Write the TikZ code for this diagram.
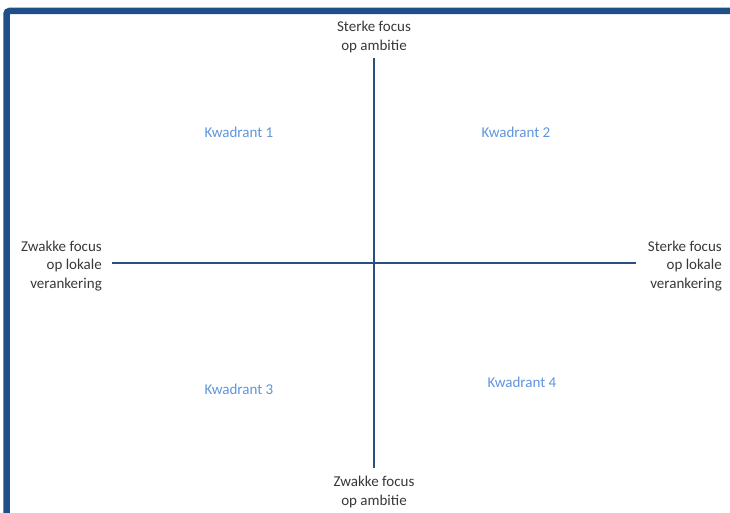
\documentclass[tikz,border=0pt]{standalone}
\usepackage{fontspec}
\setmainfont{Carlito}
\usepackage{xcolor}
\usetikzlibrary{positioning}
\definecolor{framebl}{HTML}{1F4E89}
\definecolor{axisbl}{HTML}{2B4E80}
\definecolor{kwbl}{HTML}{5E95DB}
\tikzstyle{axislabel} = [text=black!78, align=center, font=\fontsize{15}{18.5}\selectfont, inner sep=0pt]
\tikzstyle{kwadrant} = [text=kwbl, font=\fontsize{15}{18.5}\selectfont, inner sep=0pt]
\tikzstyle{axis} = [draw=axisbl, line width=2pt]

\begin{document}
\begin{tikzpicture}[x=1pt, y=-1pt]
    \useasboundingbox (0,0) rectangle (730,513);
    \clip (0,0) rectangle (730,513);

    % frame
    \draw[framebl, line width=6.5pt, rounded corners=3pt] (6.5,11) rectangle (760,540);

    % axes end points
    \coordinate (top) at (374,58);
    \coordinate (bottom) at (374,468);
    \coordinate (left) at (112,263);
    \coordinate (right) at (636,263);

    \node[axislabel] (ambhigh) at (374,37) {Sterke focus\\op ambitie};
    \node[axislabel] (amblow) at (374,492) {Zwakke focus\\op ambitie};
    \node[axislabel, align=right, anchor=east] (lokweak) at (102,266) {Zwakke focus\\op lokale\\verankering};
    \node[axislabel, align=right, anchor=east] (lokstrong) at (722,266) {Sterke focus\\op lokale\\verankering};

    \node[kwadrant] (kw1) at (239,132) {Kwadrant 1};
    \node[kwadrant] (kw2) at (516,132) {Kwadrant 2};
    \node[kwadrant] (kw3) at (239,389) {Kwadrant 3};
    \node[kwadrant] (kw4) at (522,382) {Kwadrant 4};

    \draw[axis] (top) -- (bottom);
    \draw[axis] (left) -- (right);
\end{tikzpicture}
\end{document}
